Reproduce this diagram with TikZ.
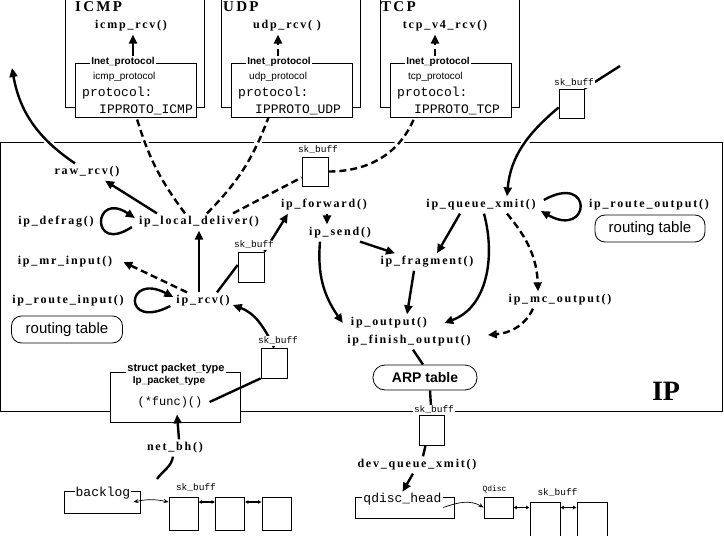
\documentclass[tikz,border=0pt]{standalone}
\usepackage{fontspec}
\setmainfont{Liberation Serif}
\newfontfamily\fnfont[LetterSpace=15]{Liberation Serif}
\newfontfamily\ttfont{Liberation Mono}
\newfontfamily\sffont{Liberation Sans}
\usetikzlibrary{arrows.meta,positioning,backgrounds}

\begin{document}
\begin{tikzpicture}[
  x=1pt, y=1pt,
  every node/.style={inner sep=1pt},
  fn/.style={font=\fnfont\bfseries\fontsize{12}{14}\selectfont, inner sep=3pt},
  hdr/.style={font=\fnfont\bfseries\fontsize{15}{17}\selectfont,
              anchor=base west, inner sep=0pt},
  code/.style={font=\ttfont\fontsize{13}{15}\selectfont, inner sep=0pt},
  skblbl/.style={font=\ttfont\fontsize{9.5}{11}\selectfont, fill=white},
  sflbl/.style={font=\sffont\bfseries\fontsize{10}{12}\selectfont, fill=white},
  skbox/.style={draw, line width=0.8pt, fill=white, inner sep=0pt},
  rtab/.style={draw, line width=0.8pt, fill=white, rounded corners=10pt,
               font=\sffont\fontsize{15}{17}\selectfont},
  ipframe/.style={line width=0.8pt},
  conn/.style={line width=2.4pt},
  arr/.style={conn, -{Triangle[length=9pt,width=8pt]}},
  dsh/.style={dash pattern=on 7pt off 4pt},
  halo/.style={preaction={draw=white, line width=7pt, solid, -}},
  qarr/.style={line width=0.7pt, -{Stealth[length=5pt,width=4pt]}},
  bdbl/.style={line width=0.7pt,
               {Stealth[length=5pt,width=4pt]}-{Stealth[length=5pt,width=4pt]}},
  dbl/.style={line width=1.2pt,
              {Latex[length=3.5pt,width=4pt]}-{Latex[length=3.5pt,width=4pt]}}
]
\useasboundingbox (0,0) rectangle (724,-536);

%% Protocol boxes (top)
\foreach \pr/\PR/\bx/\hx in {icmp/ICMP/75/75, udp/UDP/231/223, tcp/TCP/390/381}{
  \draw[ipframe] (\bx-10,0) -- (\bx-10,-107) -- (\bx+129,-107) -- (\bx+129,0);
  \node[skbox, minimum width=121pt, minimum height=54pt] (\pr box) at (\bx+60.5,-90) {};
  \node[sflbl] (\pr lbl) at (\bx+48,-62) {Inet\_protocol};
  \node[font=\sffont\fontsize{10}{12}\selectfont, anchor=west] (\pr name) at (\bx+17,-77) {\pr\_protocol};
  \node[code, anchor=west] (\pr field) at (\bx+7,-93) {protocol:};
  \node[code, anchor=west] (\pr val) at (\bx+24,-110) {IPPROTO\_\PR};
  \node[hdr] (\pr hdr) at (\hx,-11) {\PR};
}
\node[fn] (icmprcv) at (131,-26) {icmp\_rcv()};
\node[fn] (udprcv)  at (287,-26) {udp\_rcv( )};
\node[fn] (tcprcv)  at (445,-26) {tcp\_v4\_rcv()};

%% IP layer functions
\node[fn] (rawrcv)       at (87,-172)  {raw\_rcv()};
\node[fn] (localdeliver) at (199,-222) {ip\_local\_deliver()};
\node[fn] (defrag)       at (56,-222)  {ip\_defrag()};
\node[fn] (mrinput)      at (65,-262)  {ip\_mr\_input()};
\node[fn] (iprcv)        at (203,-301) {ip\_rcv()};
\node[fn] (routeinput)   at (68,-301)  {ip\_route\_input()};
\node[fn] (forward)      at (324,-205) {ip\_forward()};
\node[fn] (send)         at (340,-233) {ip\_send()};
\node[fn] (fragment)     at (427,-262) {ip\_fragment()};
\node[fn] (output)       at (389,-323) {ip\_output()};
\node[fn] (finishoutput) at (409,-341) {ip\_finish\_output()};
\node[fn] (queuexmit)    at (481,-205) {ip\_queue\_xmit()};
\node[fn] (routeoutput)  at (649,-205) {ip\_route\_output()};
\node[fn] (mcoutput)     at (560,-300) {ip\_mc\_output()};
\node[font=\bfseries\fontsize{28}{30}\selectfont] (iplbl) at (666,-391) {IP};

%% Tables
\node[rtab, minimum width=111pt, minimum height=27pt] (rtin)  at (67,-329.5)  {routing table};
\node[rtab, minimum width=110pt, minimum height=27pt] (rtout) at (650,-228.5) {routing table};
\node[rtab, rounded corners=12pt, font=\sffont\bfseries\fontsize{14}{16}\selectfont,
      minimum width=104pt, minimum height=25pt] (arp) at (425,-377.5) {ARP table};

%% sk_buff boxes
\node[skbox, minimum width=26pt, minimum height=29pt] (skbtop)  at (315,-171.5) {};
\node[skbox, minimum width=26pt, minimum height=30pt] (skbrcv)  at (251,-267)   {};
\node[skbox, minimum width=25pt, minimum height=29pt] (skbtx)   at (571.5,-103.5) {};
\node[skbox, minimum width=26pt, minimum height=30pt] (skbfunc) at (274,-363)   {};
\node[skbox, minimum width=25pt, minimum height=30pt] (skbdev)  at (431.5,-430) {};
\node[skblbl] (skbtoplbl)  at (318,-150) {sk\_buff};
\node[skblbl] (skbrcvlbl)  at (254,-245) {sk\_buff};
\node[skblbl] (skbtxlbl)   at (574,-83)  {sk\_buff};
\node[skblbl] (skbfunclbl) at (278,-341) {sk\_buff};
\node[skblbl] (skbdevlbl)  at (434,-410) {sk\_buff};

%% struct packet_type
\node[skbox, minimum width=130pt, minimum height=50pt] (pkt) at (175,-397) {};
\node[sflbl, font=\sffont\bfseries\fontsize{11}{13}\selectfont] (pktlbl) at (176,-369) {struct packet\_type};
\node[font=\sffont\bfseries\fontsize{10}{12}\selectfont] (pktname) at (169,-381) {Ip\_packet\_type};
\node[font=\ttfont\fontsize{12}{14}\selectfont] (func) at (170,-402) {(*func)()};

%% Device side
\node[fn] (devqueuexmit) at (417,-465) {dev\_queue\_xmit()};
\node[fn] (netbh)        at (175,-448) {net\_bh()};
\node[skbox, fill=none, minimum width=76pt, minimum height=22pt] (backlog) at (102,-502) {};
\node[code, fill=white, inner sep=1pt] (backloglbl) at (103,-493.5) {backlog};
\foreach \i/\x in {1/183.5, 2/230, 3/276.5}
  \node[skbox, minimum width=29pt, minimum height=33pt] (bsk\i) at (\x,-513.5) {};
\node[skblbl] (bsklbl) at (196,-488) {sk\_buff};
\node[skbox, fill=none, minimum width=99pt, minimum height=21pt] (qdisc) at (404.5,-507.5) {};
\node[code, fill=white, inner sep=1pt] (qdisclbl) at (402.5,-499) {qdisc\_head};
\node[skbox, minimum width=29pt, minimum height=21pt] (qdiscq) at (498.5,-507.5) {};
\node[font=\ttfont\fontsize{8}{10}\selectfont] (qdiscqlbl) at (494.5,-489) {Qdisc};
\node[skbox, minimum width=30pt, minimum height=35pt] (qsk1) at (545,-519.5) {};
\node[skbox, minimum width=30pt, minimum height=35pt] (qsk2) at (592,-519.5) {};
\node[skblbl] (qsklbl) at (557.5,-493) {sk\_buff};

\coordinate (rawout) at (12,-68);
\coordinate (txin)   at (620,-66);
\coordinate (blout)  at (157,-479);

\begin{scope}[on background layer]
%% IP layer frame
\draw[ipframe] (0.5,-142) rectangle (722,-411);

%% Upcalls into the protocols
\draw[arr] ([xshift=2pt]icmprcv.south |- icmplbl.north) -- ([xshift=2pt]icmprcv.south);
\draw[arr,dsh] ([xshift=-9pt]udprcv.south |- udplbl.north) -- ([xshift=-9pt]udprcv.south);
\draw[arr,dsh] ([xshift=-10pt]tcprcv.south |- tcplbl.north) -- ([xshift=-10pt]tcprcv.south);

%% Local delivery
\draw[arr] ([xshift=-42pt]localdeliver.north) -- ([xshift=18pt]rawrcv.south);
\draw[arr,halo] ([xshift=-12pt]rawrcv.north) to[out=146,in=-80] (rawout);
\draw[conn,dsh,halo] ([xshift=-14pt]localdeliver.north) to[bend left=10] ([xshift=1pt]icmpbox.south);
\draw[conn,dsh,halo] ([xshift=8pt]localdeliver.north) to[bend right=12] ([xshift=-23pt]udpbox.south);
\draw[conn,dsh] ([xshift=34pt]localdeliver.north) -- ([yshift=-6pt]skbtop.west);
\draw[conn,dsh,halo] (skbtop.east) to[out=0,in=-112] ([xshift=-36pt]tcpbox.south);
\draw[arr] ([shift={(-4,-5)}]localdeliver.west) .. controls +(-42,-28) and +(-42,28) .. ([shift={(-1,4)}]localdeliver.west);

%% Input side
\draw[arr] ([shift={(-3,-5)}]iprcv.west) .. controls +(-48,-25) and +(-48,25) .. ([shift={(0,4)}]iprcv.west);
\draw[arr] (localdeliver.south |- iprcv.north) -- (localdeliver.south);
\draw[arr,dsh] ([xshift=-16pt]iprcv.north) -- ([xshift=8pt]mrinput.east);
\draw[conn] ([xshift=14pt]iprcv.north) -- ([yshift=2pt]skbrcv.west);
\draw[arr] (skbrcv.north east) -- ([xshift=10pt]forward.south west);
\draw[arr] (skbfunc.north) to[out=115,in=-20] ([yshift=-4pt]iprcv.east);

%% Forwarding and output
\draw[arr] ([xshift=3pt]forward.south) -- ([xshift=3pt]forward.south |- send.north);
\draw[arr] ([xshift=20pt]send.south) -- ([xshift=-32pt]fragment.north);
\draw[arr] ([xshift=-20pt]send.south) to[out=-95,in=125] ([xshift=-5pt]output.west);
\draw[arr] ([xshift=-13pt]fragment.south) -- ([xshift=18pt]output.north);
\draw[conn] (txin) -- (skbtx.north east);
\draw[arr,halo] ([yshift=-4pt]skbtx.west) to[out=-140,in=85] ([xshift=26pt]queuexmit.north);
\draw[arr] ([shift={(5,5)}]queuexmit.east) .. controls +(50,28) and +(50,-28) .. ([shift={(2,-6)}]queuexmit.east);
\draw[arr] ([xshift=-21pt]queuexmit.south) -- ([xshift=10pt]fragment.north);
\draw[arr] ([xshift=3pt]queuexmit.south) to[out=-75,in=20] ([xshift=14pt]output.east);
\draw[arr,dsh] ([xshift=26pt]queuexmit.south) to[out=-50,in=92] ([xshift=-22pt]mcoutput.north);
\draw[arr,dsh] ([xshift=-27pt]mcoutput.south) to[out=-115,in=5] ([shift={(14,6)}]finishoutput.east);
\draw[conn] ([xshift=4pt]finishoutput.south) -- ([xshift=-2pt]arp.north);
\draw[conn] ([xshift=5pt]arp.south) -- (skbdev.north);

%% Device layer
\draw[conn] ([xshift=-6pt]skbdev.south) -- ([xshift=6pt]devqueuexmit.north);
\draw[arr] ([xshift=-4pt]devqueuexmit.south) -- (qdisclbl.north);
\draw[qarr] ([xshift=-11pt]qdisc.east) to[out=20,in=150] (qdiscq.west);
\draw[dbl] (qdiscq.east) -- (qdiscq.east -| qsk1.west);
\draw[dbl] ([yshift=12pt]qsk1.east) -- ([yshift=12pt]qsk2.west);
\draw[bdbl] ([xshift=-7pt]backlog.east) to[bend left=12] ([yshift=11.5pt]bsk1.west);
\foreach \a/\b in {bsk1/bsk2, bsk2/bsk3}
  \draw[dbl] ([yshift=11.5pt]\a.east) -- ([yshift=11.5pt]\b.west);
\draw[conn] (blout) to[out=55,in=-100] ([xshift=-2pt]netbh.south);
\end{scope}

%% Into packet_type
\draw[arr,halo] ([xshift=4pt]netbh.north) -- ([xshift=2pt,yshift=8pt]pkt.south);
\draw[conn] (skbfunc.south west) -- ([xshift=6pt]func.east);

\end{tikzpicture}
\end{document}
